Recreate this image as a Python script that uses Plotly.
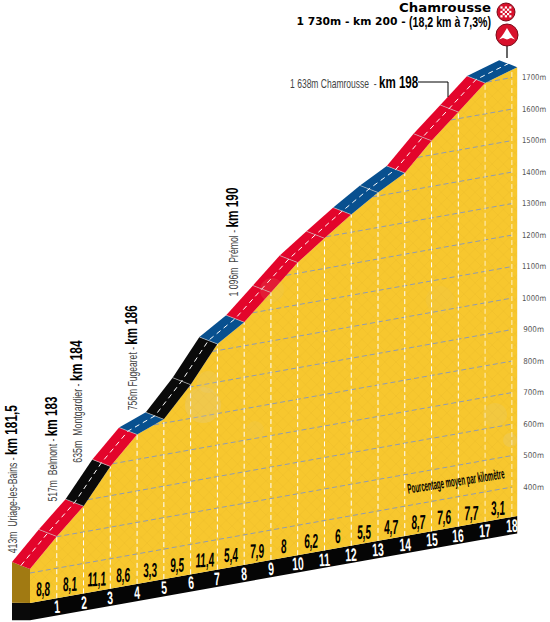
import json
import plotly.graph_objects as go

W, H = 550, 622
kms = [0,1,2,3,4,5,6,7,8,9,10,11,12,13,14,15,16,17,18.2]
alts = [413,501,582,693,779,812,907,1021,1075,1154,1234,1296,1356,1411,1458,1545,1621,1698,1730]
pct_labels = ["8,8","8,1","11,1","8,6","3,3","9,5","11,4","5,4","7,9","8","6,2","6","5,5","4,7","8,7","7,6","7,7","3,1"]
seg_colors = ["red","red","black","red","blue","black","black","blue","red","red","red","red","blue","blue","red","red","red","blue"]
alt_ticks = [400,500,600,700,800,900,1000,1100,1200,1300,1400,1500,1600,1700]
km_ticks = list(range(1,19))
km_labels = [str(k) for k in km_ticks]
passes = [
    ("413m  Uriage-les-Bains", "km 181,5", 11, 479, 148),
    ("517m  Belmont", "km 183", 52, 449.5, 105),
    ("635m  Montgardier", "km 184", 77, 401.5, 123),
    ("756m Fugearet", "km 186", 132, 357.5, 105),
    ("1 096m  Prémol", "km 190", 233, 242.5, 109),
]
PALETTE = {"red":"#E3052B","black":"#0A0A0A","blue":"#08508F"}
SANS = "Liberation Sans"

# oblique projection
SHEAR = 15.15
PXKM = 26.77
PXM = 0.315
X0, Y400 = 30, 573
def D(k, a): return a + SHEAR*k
xr = [(0-X0)/PXKM, (W-X0)/PXKM]
yr = [400-(H-Y400)/PXM, 400+Y400/PXM]
DK, DA = -18/PXKM, 7/PXM   # depth of road band
BASE, FOOT = 305, 250
def interp(a):
    for i in range(len(alts)-1):
        if alts[i] <= a <= alts[i+1]:
            return kms[i]+(a-alts[i])/(alts[i+1]-alts[i])*(kms[i+1]-kms[i])
    return kms[0]
def P(x, y): return x/W, 1-y/H

fig = go.Figure()
def poly(xs, ys, color, **kw):
    fig.add_trace(go.Scatter(x=xs, y=ys, mode="lines", fill="toself", fillcolor=color,
                             line=dict(width=0, color=color), hoverinfo="skip", **kw))
def line(xs, ys, color, width=1, dash=None):
    fig.add_trace(go.Scatter(x=xs, y=ys, mode="lines", hoverinfo="skip",
                             line=dict(color=color, width=width, dash=dash)))

end = kms[-1]
# base
poly([0,end,end,0],[D(0,BASE),D(end,BASE),D(end,FOOT),D(0,FOOT)],"#050505")
poly([DK,0,0,DK],[D(0,BASE)+DA-22,D(0,BASE),D(0,FOOT),D(0,FOOT)+DA-22],"#0A0A0A")
poly([DK,0,0,DK],[D(0,alts[0])+DA,D(0,alts[0]),D(0,BASE),D(0,BASE)+DA-22],"#A17A12")
# terrain
poly(kms+[end,0],[D(k,a) for k,a in zip(kms,alts)]+[D(end,BASE),D(0,BASE)],"#F7C72E",
     fillpattern=dict(shape="x",size=8,solidity=0.12,fgcolor="#C9931B",fgopacity=0.2,bgcolor="#F7C72E"))
# gridlines
for a in alt_ticks:
    s = interp(a)
    line([s,18],[D(s,a),D(18,a)],"#8F9BB2",1,"5px,3px")
for k in km_ticks:
    a = alts[k] if k < 18 else 1728
    line([k,k],[D(k,BASE),D(k,a)],"#FFF0C0" if k>=17 else "#FFFFFF",1,"5px,3px")
# road band
for i,c in enumerate(seg_colors):
    k0,k1,a0,a1 = kms[i],kms[i+1],alts[i],alts[i+1]
    poly([k0,k1,k1+DK,k0+DK],[D(k0,a0),D(k1,a1),D(k1,a1)+DA,D(k0,a0)+DA],PALETTE[c])
for k,a in zip(kms[1:-1],alts[1:-1]):
    line([k,k+DK],[D(k,a),D(k,a)+DA],"#C9C9C9",0.6)
line([k+DK/2 for k in kms],[D(k,a)+DA/2 for k,a in zip(kms,alts)],"#FFFFFF",1,"5px,4px")

anns = []
fit = []   # horizontal condensing per annotation: target width in px, or scale
def note(px, py, text, size, color="#000", family=SANS, angle=0, width=None, scale=None):
    x,y = P(px,py)
    anns.append(dict(x=x,y=y,xref="paper",yref="paper",text=text,showarrow=False,textangle=angle,
                     xanchor="center",yanchor="middle",font=dict(size=size,color=color,family=family)))
    fit.append(dict(w=width,s=scale))
def data_note(k, a, text, size, color, angle=0, family=SANS, scale=None, xshift=0):
    anns.append(dict(x=k,y=D(k,a),xref="x",yref="y",text=text,showarrow=False,textangle=angle,xshift=xshift,
                     xanchor="center",yanchor="middle",font=dict(size=size,color=color,family=family)))
    fit.append(dict(w=None,s=scale))
for i,t in enumerate(pct_labels):
    data_note(kms[i]+0.5,342,f"<b><i>{t}</i></b>",20,"#000",-3,scale=0.5)
for k,t in zip(km_ticks,km_labels):
    data_note(k,276,f"<b>{t}</b>",18,"#FFF",-3,scale=0.58)
for a in alt_ticks:
    data_note(18,a,f"{a}m",8,"#555",family="DejaVu Sans",scale=0.86 if a>=1000 else 0.9,xshift=22)
for name,km,px,py,L in passes:
    note(px,py,f'{name} - <b><span style="font-size:17px;color:#000">{km}</span></b>',12.5,"#444",angle=-90,width=L)
note(354,82,'1 638m Chamrousse  - <b><span style="font-size:17px;color:#000">km 198</span></b>',12.5,"#444",width=128)
note(445,8,"<b>Chamrousse</b>",13,"#000","DejaVu Sans",width=92)
note(449.5,22,"<b>(18,2 km à 7,3%)</b>",14,"#000",width=82)
note(351,22,"<b>1 730m - km 200 -</b>",11,"#000","DejaVu Sans",width=109)
note(456,481,"<b>Pourcentage moyen par kilomètre</b>",14,"#000",angle=-9,width=98)

shapes = []
def seg(x0,y0,x1,y1,color="#000",w=1):
    a,b = P(x0,y0); c,d = P(x1,y1)
    shapes.append(dict(type="line",xref="paper",yref="paper",x0=a,y0=b,x1=c,y1=d,line=dict(color=color,width=w)))
def circle(cx,cy,r,fill,lc=None,op=1):
    a,b = P(cx-r,cy-r); c,d = P(cx+r,cy+r)
    shapes.append(dict(type="circle",xref="paper",yref="paper",x0=a,y0=b,x1=c,y1=d,fillcolor=fill,opacity=op,
                       line=dict(color=lc or fill,width=1 if lc else 0)))
def rect(x0,y0,x1,y1,fill):
    a,b = P(x0,y0); c,d = P(x1,y1)
    shapes.append(dict(type="rect",xref="paper",yref="paper",x0=a,y0=b,x1=c,y1=d,fillcolor=fill,line=dict(width=0)))
# relief patches
for cx,cy,r,op in [(203,405,18,.3),(208,382,11,.2),(495,415,12,.18),(510,440,7,.25),(272,290,12,.12),(440,300,14,.1),(255,430,9,.12)]:
    circle(cx,cy,r,"#E0CB8E",op=op)
# leaders and summit icons
seg(418,82,448,82); seg(448,82,448,97)
seg(507,45,507,58,"#000",1.2)
circle(506,12,9,"#D8112C","#7A0A18")
circle(507,35,11,"#D8112C","#7A0A18")
for r_ in range(5):
    for c_ in range(5):
        if (r_+c_)%2==0:
            rect(500.4+c_*2.2,6.4+r_*2.2,502.6+c_*2.2,8.6+r_*2.2,"#FFF")
pts = [(499,39.5),(502,36),(504,33),(507,28),(510,33),(512,36),(515,39.5),(511,38),(507,39.5),(503,38)]
path = "M "+" L ".join(f"{P(*p)[0]:.4f},{P(*p)[1]:.4f}" for p in pts)+" Z"
shapes.append(dict(type="path",xref="paper",yref="paper",path=path,fillcolor="#FFF",line=dict(width=0)))

fig.update_layout(width=W,height=H,margin=dict(l=0,r=0,t=0,b=0),showlegend=False,
                  paper_bgcolor="#FFF",plot_bgcolor="#FFF",annotations=anns,shapes=shapes,
                  xaxis=dict(range=xr,visible=False,fixedrange=True),
                  yaxis=dict(range=yr,visible=False,fixedrange=True))
js = """
document.body.style.margin='0';document.body.style.overflow='hidden';
var FIT=%s;
function condense(){
  document.querySelectorAll('g.annotation').forEach(function(g){
    var f=FIT[+g.getAttribute('data-index')]; var t=g.querySelector('text.annotation-text');
    if(!f||!t) return;
    var b=t.getBBox(); var s=f.w? f.w/b.width : f.s; if(!s) return;
    var cx=b.x+b.width/2;
    t.setAttribute('transform','translate('+cx+',0) scale('+s+',1) translate('+(-cx)+',0)');
  });
}
condense(); setTimeout(condense,30);
var gd0=document.querySelector('.plotly-graph-div'); if(gd0&&gd0.on) gd0.on('plotly_afterplot',condense);
""" % json.dumps(fit)
fig.write_html("out.html",config={"displayModeBar":False},post_script=js)
